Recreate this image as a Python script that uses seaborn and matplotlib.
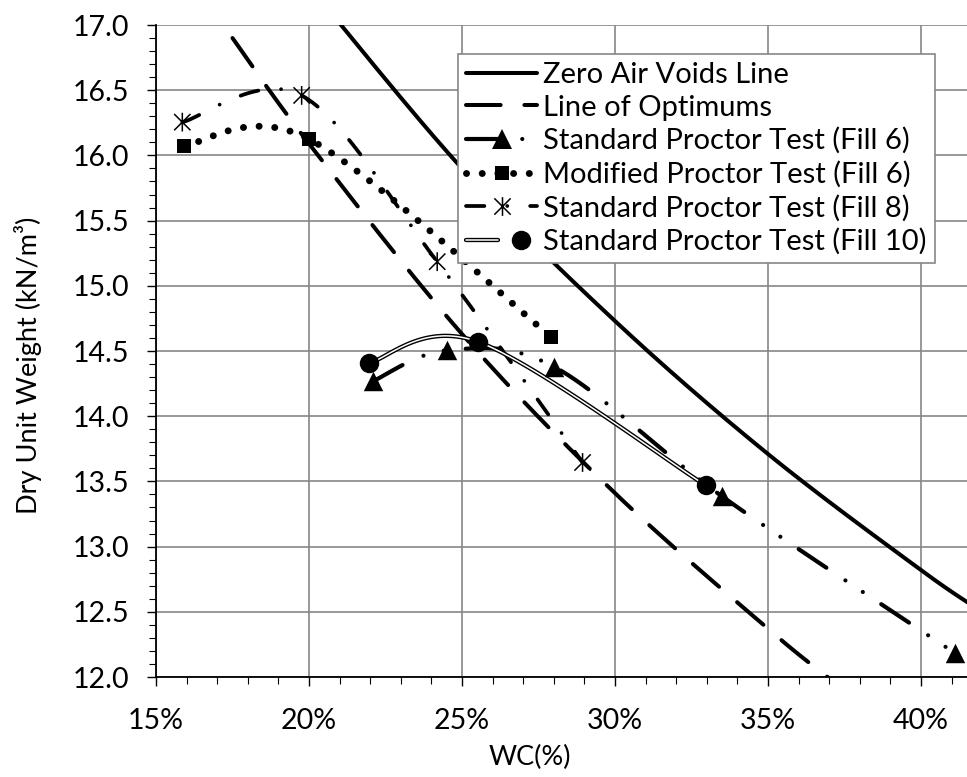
import numpy as np
import matplotlib
matplotlib.use("Agg")
import matplotlib.pyplot as plt
import matplotlib.patheffects as pe
import seaborn as sns
from matplotlib.path import Path
from matplotlib.lines import Line2D
from matplotlib.legend_handler import HandlerTuple
from matplotlib.ticker import MultipleLocator, PercentFormatter, FormatStrFormatter

# ---- data: water content (fraction) and dry unit weight (kN/m3) ----
zav_wc = [0.20, 0.25, 0.30, 0.35, 0.40, 0.42]
zav_gd = [17.30, 15.90, 14.73, 13.71, 12.82, 12.50]

opt_wc = [0.175, 0.20, 0.25, 0.30, 0.35, 0.37]
opt_gd = [16.90, 16.09, 14.63, 13.41, 12.37, 11.99]

sp6_wc = [0.221, 0.245, 0.280, 0.335, 0.411]
sp6_gd = [14.27, 14.505, 14.38, 13.385, 12.185]

mp6_wc = [0.159, 0.200, 0.279]
mp6_gd = [16.075, 16.125, 14.61]

sp8_wc = [0.1586, 0.1976, 0.2419, 0.2894]
sp8_gd = [16.255, 16.46, 15.185, 13.645]

sp10_wc = [0.2197, 0.2553, 0.3296]
sp10_gd = [14.41, 14.57, 13.47]

labels = [
    "Zero Air Voids Line",
    "Line of Optimums",
    "Standard Proctor Test (Fill 6)",
    "Modified Proctor Test (Fill 6)",
    "Standard Proctor Test (Fill 8)",
    "Standard Proctor Test (Fill 10)",
]


def smooth(xs, ys, n=60):
    """Smoothed polyline through the points (cubic Bezier, Catmull-Rom tangents)."""
    p = np.column_stack([xs, ys]).astype(float)
    ext = np.vstack([p[0], p, p[-1]])
    t = np.linspace(0, 1, n)[1:, None]
    out = [p[:1]]
    for i in range(len(p) - 1):
        p0, p1, p2, p3 = ext[i], ext[i + 1], ext[i + 2], ext[i + 3]
        c1 = p1 + (p2 - p0) / 6.0
        c2 = p2 - (p3 - p1) / 6.0
        seg = ((1 - t) ** 3) * p1 + 3 * (1 - t) ** 2 * t * c1 \
            + 3 * (1 - t) * t ** 2 * c2 + t ** 3 * p2
        out.append(seg)
    s = np.vstack(out)
    return s[:, 0], s[:, 1]


sns.set_theme(style="white")
plt.rcParams["font.family"] = ["Lato", "DejaVu Sans"]

W, H = 967, 777
fig = plt.figure(figsize=(W / 100, H / 100), dpi=100)
ax = fig.add_axes([156 / W, 1 - 677 / H, (W - 156) / W, (677 - 25) / H])

# asterisk marker: vertical bar plus an X
ast = Path(
    [(0, -1), (0, 1), (-0.87, -0.87), (0.87, 0.87), (-0.87, 0.87), (0.87, -0.87)],
    [Path.MOVETO, Path.LINETO, Path.MOVETO, Path.LINETO, Path.MOVETO, Path.LINETO],
)

K = "black"
styles = {
    "zav": dict(lw=2.9, ls="-"),
    "opt": dict(lw=2.9, ls=(0, (8.6, 5.9))),
    "sp6": dict(lw=3.0, ls=(0, (8.0, 5.5, 0.01, 5.0, 0.01, 5.3))),
    "mp6": dict(lw=5.0, ls=(0, (0.01, 2.25))),
    "sp8": dict(lw=2.7, ls=(0, (4.9, 6.1, 0.01, 6.1))),
}

series = [
    ("zav", zav_wc, zav_gd),
    ("opt", opt_wc, opt_gd),
    ("sp6", sp6_wc, sp6_gd),
    ("mp6", mp6_wc, mp6_gd),
    ("sp8", sp8_wc, sp8_gd),
]
for key, xs, ys in series:
    sx, sy = smooth(xs, ys)
    st = styles[key]
    sns.lineplot(x=sx, y=sy, ax=ax, color=K, linewidth=st["lw"], linestyle=st["ls"],
                 dash_capstyle="round", solid_capstyle="butt",
                 sort=False, estimator=None, legend=False, zorder=3)

# double line for Fill 10
dbl_fx = [pe.Stroke(linewidth=3.1, foreground=K), pe.Normal()]
sx, sy = smooth(sp10_wc, sp10_gd)
sns.lineplot(x=sx, y=sy, ax=ax, color="white", linewidth=1.1, sort=False,
             estimator=None, legend=False, path_effects=dbl_fx, zorder=3)

# markers
marker_specs = [
    (sp6_wc, sp6_gd, "^", 14.0),
    (mp6_wc, mp6_gd, "s", 10.5),
    (sp10_wc, sp10_gd, "o", 14.0),
]
for xs, ys, m, ms in marker_specs:
    sns.scatterplot(x=xs, y=ys, ax=ax, marker=m, s=ms ** 2, color=K,
                    linewidth=0, legend=False, zorder=4)
sns.scatterplot(x=sp8_wc, y=sp8_gd, ax=ax, marker=ast, s=13.5 ** 2,
                facecolor="none", edgecolor=K, linewidth=1.1, legend=False, zorder=4)

# axes
ax.set_xlim(0.15, 0.15 + (W - 156) / 30.6 / 100)
ax.set_ylim(12.0, 17.0)
ax.xaxis.set_major_locator(MultipleLocator(0.05))
ax.xaxis.set_minor_locator(MultipleLocator(0.01))
ax.yaxis.set_major_locator(MultipleLocator(0.5))
ax.yaxis.set_minor_locator(MultipleLocator(0.1))
ax.xaxis.set_major_formatter(PercentFormatter(1.0, decimals=0))
ax.yaxis.set_major_formatter(FormatStrFormatter("%.1f"))
ax.grid(True, which="major", color="#868686", linewidth=1.2)
ax.set_axisbelow(True)
for side in ("top", "right"):
    ax.spines[side].set_visible(False)
for side in ("left", "bottom"):
    ax.spines[side].set_color(K)
    ax.spines[side].set_linewidth(1.3)
ax.tick_params(which="major", direction="out", length=6.5, width=1.0, color=K,
               labelsize=20.5, labelcolor=K, left=True, bottom=True)
ax.tick_params(which="minor", direction="out", length=4.8, width=0.8, color=K,
               left=True, bottom=True)
ax.tick_params(axis="y", which="major", pad=13)
ax.tick_params(axis="x", which="major", pad=16)

ax.set_xlabel("WC(%)", fontsize=19.5, color=K)
ax.xaxis.set_label_coords(530 / W, 1 - 757 / H, transform=fig.transFigure)
ax.xaxis.label.set_va("center")
ax.set_ylabel("Dry Unit Weight (kN/m³)", fontsize=19.5, color=K)
ax.yaxis.set_label_coords(28 / W, 1 - 365 / H, transform=fig.transFigure)
ax.yaxis.label.set_va("center")

# legend
h_zav = Line2D([], [], color=K, lw=styles["zav"]["lw"], ls="-")
h_opt = Line2D([], [], color=K, lw=styles["opt"]["lw"], ls=styles["opt"]["ls"],
               dash_capstyle="round")
h_sp6 = Line2D([], [], color=K, lw=styles["sp6"]["lw"], ls=styles["sp6"]["ls"],
               dash_capstyle="round", marker="^", ms=14.0, mew=0)
h_mp6 = Line2D([], [], color=K, lw=styles["mp6"]["lw"], ls=styles["mp6"]["ls"],
               dash_capstyle="round", marker="s", ms=10.5, mew=0)
h_sp8 = Line2D([], [], color=K, lw=styles["sp8"]["lw"], ls=styles["sp8"]["ls"],
               dash_capstyle="round", marker=ast, ms=13.5, mew=1.1,
               mfc="none", mec=K)
h_sp10_line = Line2D([], [], color="white", lw=1.1, path_effects=dbl_fx)
h_sp10_mark = Line2D([], [], color=K, ls="none", marker="o", ms=14.0, mew=0)
handles = [h_zav, h_opt, h_sp6, h_mp6, h_sp8, (h_sp10_line, h_sp10_mark)]

leg = ax.legend(handles, labels, loc="upper left",
                bbox_to_anchor=(458 / W, 1 - 54 / H), bbox_transform=fig.transFigure,
                borderaxespad=0, fontsize=21, frameon=True, fancybox=False,
                framealpha=1, edgecolor="#868686", handlelength=2.45,
                handletextpad=0.2, labelspacing=0.23, borderpad=0.27,
                handler_map={tuple: HandlerTuple(ndivide=None)})
leg.get_frame().set_linewidth(1.2)
for t in leg.get_texts():
    t.set_color(K)

fig.savefig("out.png", dpi=100, facecolor="white")
